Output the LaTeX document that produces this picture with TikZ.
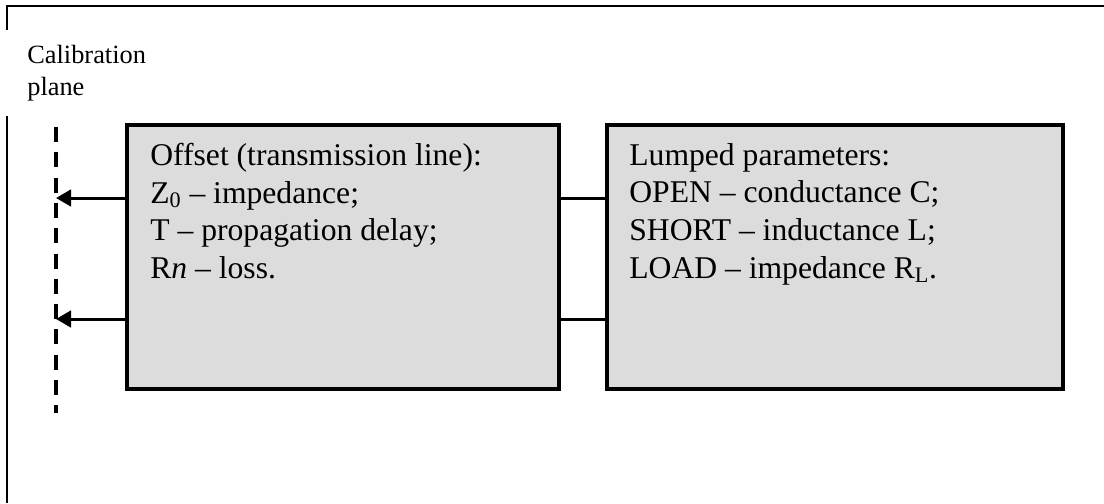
\documentclass[tikz,border=0pt]{standalone}
\usepackage{fontspec}
\setmainfont{Liberation Serif}
\usetikzlibrary{positioning,calc,arrows.meta}
\definecolor{boxgray}{RGB}{220,220,220}

\begin{document}
\begin{tikzpicture}[
    box/.style={draw, line width=2.2pt, fill=boxgray, minimum height=5.28cm,
                inner sep=0pt, outer sep=0pt},
    txt/.style={align=left, inner sep=0pt, font=\fontsize{18}{21.4}\selectfont},
    conn/.style={line width=1.7pt},
    arr/.style={conn, -{Triangle[length=0.3cm, width=0.33cm]}},
    plane/.style={line width=2pt, dash pattern=on 0.3cm off 0.206cm},
  ]
  \useasboundingbox (0,0) rectangle (22.08,-10.06);

  % outer frame (open at right and bottom)
  \draw[line width=1.1pt] (0.14,-10.06) -- (0.14,-0.12) -- (22.08,-0.12);
  \node[fill=white, anchor=north west, inner xsep=0.44cm, inner ysep=0pt,
        minimum height=1.72cm, align=left, font=\fontsize{15}{18.5}\selectfont]
    (cal) at (0.1,-0.6) {Calibration\\plane};

  % the two blocks
  \node[box, minimum width=8.64cm, anchor=north west] (offset) at (2.54,-2.5) {};
  \node[box, minimum width=9.12cm, right=0.96cm of offset] (lumped) {};

  \node[txt, below right=0.36cm and 0.46cm of offset.north west] (offsetTxt)
    {Offset (transmission line):\\
     Z\textsubscript{0} -- impedance;\\
     T -- propagation delay;\\
     R\textit{n} -- loss.};
  \node[txt, below right=0.36cm and 0.44cm of lumped.north west] (lumpedTxt)
    {Lumped parameters:\\
     OPEN -- conductance C;\\
     SHORT -- inductance L;\\
     LOAD -- impedance R\textsubscript{L}.};

  % calibration plane and connectors
  \coordinate (hiY) at (0,-3.96);
  \coordinate (loY) at (0,-6.38);
  \coordinate (planeTop) at (1.12,-2.54);
  \coordinate (planeBot) at (1.12,-8.26);
  \draw[plane] (planeTop) -- (planeBot);

  \draw[conn] (offset.east |- hiY) -- (lumped.west |- hiY);
  \draw[conn] (offset.east |- loY) -- (lumped.west |- loY);
  \draw[arr] (offset.west |- hiY) -- (planeTop |- hiY);
  \draw[arr] (offset.west |- loY) -- (planeTop |- loY);
\end{tikzpicture}
\end{document}
